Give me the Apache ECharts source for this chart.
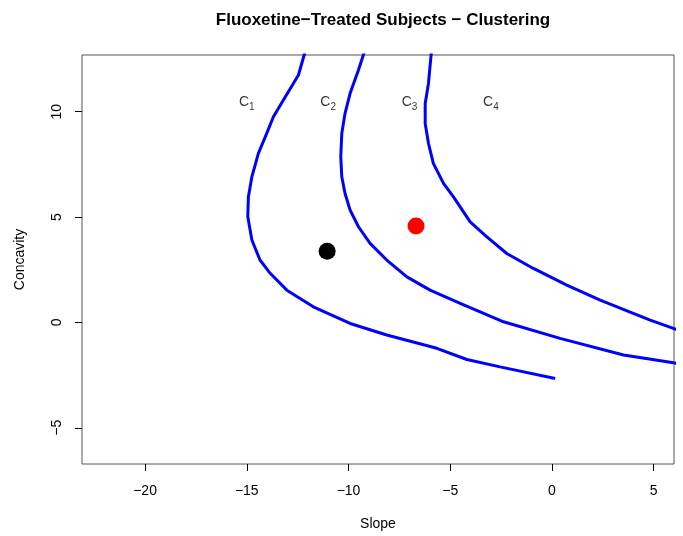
<!DOCTYPE html>
<html>
<head>
<meta charset="utf-8">
<script src="https://cdn.jsdelivr.net/npm/echarts@6/dist/echarts.min.js"></script>
<style>
  html, body { margin: 0; padding: 0; background: #fff; }
  #chart { width: 683px; height: 536px; }
</style>
</head>
<body>
<div id="chart"></div>
<script>
// Cluster boundary curves in (slope, concavity) space
const boundary1 = [
  [-12.0, 13.3], [-12.18, 12.69], [-12.46, 11.74], [-12.71, 11.34], [-13.20, 10.55],
  [-13.69, 9.76], [-14.02, 8.97], [-14.43, 8.02], [-14.75, 6.91], [-14.92, 5.96],
  [-14.95, 5.01], [-14.75, 3.91], [-14.35, 2.96], [-13.85, 2.33], [-13.03, 1.53],
  [-11.73, 0.74], [-9.92, -0.05], [-8.12, -0.60], [-5.66, -1.23], [-4.18, -1.76],
  [-2.55, -2.11], [0.16, -2.66]
];
const boundary2 = [
  [-9.1, 13.3], [-9.27, 12.69], [-9.51, 11.98], [-9.92, 10.87], [-10.17, 9.92],
  [-10.33, 8.97], [-10.38, 7.86], [-10.33, 6.91], [-10.17, 6.12], [-9.92, 5.33],
  [-9.51, 4.54], [-8.94, 3.75], [-8.12, 2.96], [-7.13, 2.16], [-5.99, 1.53],
  [-4.51, 0.90], [-2.38, 0.03], [0.40, -0.76], [3.52, -1.55], [5.97, -1.92],
  [6.5, -1.98]
];
const boundary3 = [
  [-5.88, 13.3], [-5.94, 12.69], [-6.07, 11.34], [-6.23, 10.39], [-6.23, 9.44],
  [-6.07, 8.50], [-5.83, 7.55], [-5.33, 6.60], [-4.84, 5.96], [-4.02, 4.77],
  [-3.20, 4.06], [-2.22, 3.27], [-0.91, 2.56], [0.73, 1.77], [2.37, 1.06],
  [4.83, 0.11], [5.97, -0.28], [6.5, -0.50]
];

// Cluster centres
const centerBlack = [[-11.05, 3.38]];
const centerRed = [[-6.68, 4.57]];

// Cluster region labels
const clusterLabelX = [-15, -11, -7, -3];
const clusterLabelY = 10.4;
const clusterNames = ['1', '2', '3', '4'];

// Axis ticks and ranges
const xTicks = [-20, -15, -10, -5, 0, 5];
const yTicks = [-5, 0, 5, 10];
const xRange = [-23.1, 6.0];
const yRange = [-6.72, 12.69];

const minus = v => String(v).replace('-', '\u2212');
const font = '"Liberation Sans", Arial, Helvetica, sans-serif';

const chart = echarts.init(document.getElementById('chart'), null, { renderer: 'canvas' });

const lineSeries = (data) => ({
  type: 'line',
  data: data,
  showSymbol: false,
  symbol: 'none',
  smooth: false,
  clip: true,
  lineStyle: { color: '#0000ff', width: 3 },
  silent: true,
  z: 2
});

chart.setOption({
  animation: false,
  backgroundColor: '#ffffff',
  title: {
    text: 'Fluoxetine\u2212Treated Subjects \u2212 Clustering',
    left: 378,
    top: 7,
    textAlign: 'center',
    textStyle: { fontFamily: font, fontSize: 17, fontWeight: 'bold', color: '#000' }
  },
  grid: {
    left: 82, right: 9, top: 55, bottom: 72,
    show: true,
    borderColor: '#555',
    borderWidth: 1,
    backgroundColor: 'transparent'
  },
  xAxis: {
    type: 'value',
    min: xRange[0],
    max: xRange[1],
    name: 'Slope',
    nameLocation: 'middle',
    nameGap: 53,
    nameTextStyle: { fontFamily: font, fontSize: 14, color: '#000' },
    axisLine: { show: false, onZero: false },
    splitLine: { show: false },
    axisTick: {
      show: true, length: 7, inside: false,
      customValues: xTicks,
      lineStyle: { color: '#000', width: 1 }
    },
    axisLabel: {
      show: true,
      customValues: xTicks,
      margin: 20,
      fontFamily: font, fontSize: 14, color: '#000',
      formatter: minus
    }
  },
  yAxis: {
    type: 'value',
    min: yRange[0],
    max: yRange[1],
    name: 'Concavity',
    nameLocation: 'middle',
    nameGap: 55,
    nameRotate: 90,
    nameTextStyle: { fontFamily: font, fontSize: 14, color: '#000' },
    axisLine: { show: false, onZero: false },
    splitLine: { show: false },
    axisTick: {
      show: true, length: 7, inside: false,
      customValues: yTicks,
      lineStyle: { color: '#000', width: 1 }
    },
    axisLabel: {
      show: true,
      customValues: yTicks,
      rotate: 90,
      margin: 18,
      fontFamily: font, fontSize: 14, color: '#000',
      formatter: minus
    }
  },
  series: [
    lineSeries(boundary1),
    lineSeries(boundary2),
    lineSeries(boundary3),
    {
      type: 'scatter',
      data: centerBlack,
      symbol: 'circle',
      symbolSize: 17,
      itemStyle: { color: '#000000', opacity: 1 },
      silent: true,
      z: 3
    },
    {
      type: 'scatter',
      data: centerRed,
      symbol: 'circle',
      symbolSize: 17,
      itemStyle: { color: '#ff0000', opacity: 1 },
      silent: true,
      z: 3
    },
    {
      type: 'scatter',
      data: clusterLabelX.map((x, i) => ({ value: [x, clusterLabelY], name: clusterNames[i] })),
      symbolSize: 0,
      silent: true,
      label: {
        show: true,
        position: 'inside',
        formatter: p => '{c|C}{s|' + p.name + '}',
        rich: {
          c: { fontFamily: font, fontSize: 14, color: '#000', lineHeight: 18, verticalAlign: 'bottom', padding: [0, 0, 3, 0] },
          s: { fontFamily: font, fontSize: 10, color: '#000', lineHeight: 18, verticalAlign: 'bottom' }
        }
      },
      z: 4
    }
  ]
});
</script>
</body>
</html>
